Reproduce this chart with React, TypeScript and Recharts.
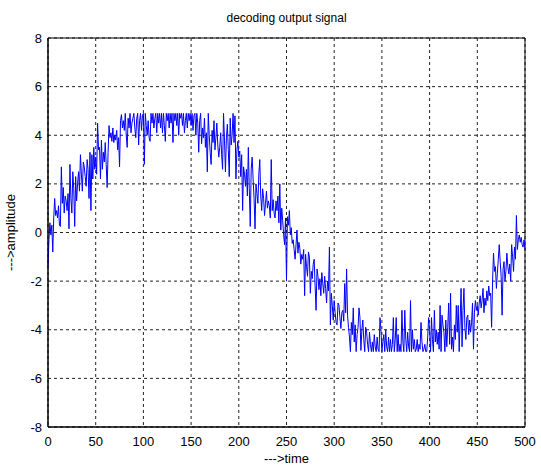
import { LineChart, Line, XAxis, YAxis, CartesianGrid, ReferenceArea } from 'recharts';

// decoded samples, one per time step (t = 0..500)
const amplitude: number[] = [
  -1.4, -0.3, 0.4, -0.1, 0.3, -0.8, 0.6, 1.4, 0.7, 0.9,
  0.6, 1.1, 0.3, 0.25, 2.7, 1.2, 1.85, 0.8, 1.5, 1.3,
  0.9, 1.6, 0.15, 2.8, 1.4, 0.8, 2.5, 1.8, 0.25, 2.3,
  1.3, 2.0, 2.5, 1.7, 3.2, 2.4, 1.7, 2.9, 2.7, 2.3,
  1.9, 3.0, 2.6, 1.4, 3.3, 0.9, 3.2, 2.2, 3.5, 2.6,
  3.1, 2.4, 4.5, 3.4, 3.5, 2.2, 3.8, 2.6, 3.3, 2.9,
  3.7, 2.8, 1.85, 3.3, 4.4, 3.9, 4.1, 3.75, 4.3, 3.7,
  4.0, 3.8, 4.2, 3.4, 3.9, 2.7, 4.6, 4.85, 4.3, 4.6,
  4.2, 4.9, 4.0, 3.5, 4.7, 4.3, 4.9, 4.1, 4.5, 4.7,
  4.9, 4.3, 3.9, 4.7, 4.9, 3.6, 4.6, 4.9, 4.2, 4.8,
  4.9, 2.8, 4.9, 4.4, 4.0, 4.6, 3.9, 3.75, 4.9, 4.5,
  4.9, 4.3, 4.7, 4.9, 4.1, 4.9, 4.5, 4.9, 4.3, 4.9,
  4.1, 4.9, 4.4, 3.75, 4.9, 4.6, 4.9, 4.3, 4.9, 4.5,
  4.9, 3.7, 4.9, 4.6, 4.9, 4.4, 4.9, 4.0, 4.9, 4.7,
  4.9, 4.4, 4.9, 4.1, 4.6, 4.9, 4.3, 4.9, 4.6, 4.9,
  4.4, 4.9, 4.2, 4.8, 4.9, 4.0, 4.9, 4.5, 3.3, 4.6,
  4.9, 3.65, 4.3, 3.9, 4.7, 3.5, 4.1, 2.5, 4.9, 4.0,
  3.3, 2.8, 4.2, 3.7, 4.6, 3.4, 3.9, 4.5, 3.6, 3.1,
  3.5, 4.1, 3.2, 2.6, 4.9, 3.8, 2.5, 3.9, 4.45, 3.4,
  2.3, 4.7, 3.6, 4.0, 4.9, 3.7, 4.8, 2.2, 3.4, 3.75,
  3.1, 3.35, 2.3, 3.2, 0.9, 2.7, 2.4, 1.9, 2.6, 1.5,
  3.5, 1.8, 0.25, 2.6, 3.1, 2.2, 1.4, 0.15, 2.0, 1.6,
  1.2, 2.4, 3.0, 1.5, 0.9, 1.8, 1.4, 0.7, 1.2, 1.7,
  1.0, 1.3, 1.1, 0.6, 3.0, 0.9, 1.35, 0.8, 0.6, 1.3,
  0.9, 1.5, 0.4, 2.0, 0.1, 1.0, 0.5, -0.1, -0.5, 0.6,
  -2.0, 0.65, 0.3, 0.9, -0.1, 0.2, -0.45, -0.3, -0.7, -1.1,
  -0.5, 0.1, -0.85, -0.4, -0.65, -1.3, -0.9, -1.1, -0.7, -2.6,
  -0.9, -1.4, -1.8, -0.8, -1.0, -2.5, -1.6, -1.9, -1.3, -1.1,
  -2.2, -3.2, -1.5, -1.8, -2.35, -1.9, -2.6, -1.65, -2.1, -2.5,
  -1.8, -2.3, -2.9, -2.0, -2.4, -0.6, -3.8, -2.5, -3.0, -3.6,
  -2.8, -3.3, -3.7, -3.8, -2.9, -3.0, -3.5, -3.95, -3.3, -3.2,
  -3.65, -2.1, -3.3, -1.5, -3.4, -3.9, -4.3, -4.9, -3.7, -4.2,
  -3.1, -4.5, -3.8, -4.9, -4.2, -3.9, -3.1, -3.5, -4.85, -4.0,
  -3.6, -4.4, -4.9, -3.9, -4.1, -4.6, -4.9, -4.1, -4.6, -4.9,
  -4.5, -4.9, -4.2, -4.7, -4.9, -4.3, -4.8, -4.9, -3.5, -4.0,
  -4.9, -4.5, -4.2, -4.9, -4.0, -4.7, -4.9, -4.3, -4.9, -4.4,
  -4.9, -4.6, -3.5, -4.9, -4.4, -3.5, -4.9, -4.2, -4.9, -4.6,
  -4.9, -3.2, -4.5, -4.9, -3.2, -4.4, -4.9, -4.1, -4.7, -4.9,
  -2.8, -4.9, -4.0, -4.8, -4.4, -4.9, -4.8, -4.4, -4.9, -4.6,
  -4.8, -3.7, -4.5, -4.9, -4.8, -4.6, -4.9, -4.9, -4.3, -3.5,
  -4.0, -4.9, -3.5, -4.4, -4.9, -3.2, -4.5, -4.0, -4.6, -4.1,
  -4.8, -3.0, -4.9, -3.4, -3.8, -4.1, -4.9, -3.6, -4.7, -3.9,
  -2.9, -4.6, -2.5, -4.8, -4.3, -4.9, -3.8, -4.4, -3.0, -4.1,
  -3.0, -4.9, -3.6, -2.3, -4.7, -3.2, -2.3, -3.9, -4.4, -3.5,
  -3.4, -4.2, -3.6, -4.1, -3.7, -2.9, -4.8, -3.3, -2.8, -3.2,
  -3.0, -3.4, -2.9, -2.6, -3.1, -2.8, -2.3, -3.3, -2.7, -3.0,
  -2.4, -2.8, -2.2, -2.6, -2.5, -3.9, -2.0, -0.85, -1.6, -1.4,
  -2.3, -1.7, -1.1, -0.5, -1.2, -1.8, -3.4, -1.5, -1.2, -2.0,
  -1.6, -0.85, -1.4, -1.7, -1.3, -2.0, -0.5, -1.0, -1.6, -0.6,
  -1.1, 0.7, -0.7, -0.3, -0.1, -0.4, -0.2, -0.5, -0.6, -0.3,
  -0.7,
];

const timeTicks = [0, 50, 100, 150, 200, 250, 300, 350, 400, 450, 500];
const ampTicks = [-8, -6, -4, -2, 0, 2, 4, 6, 8];

const data = amplitude.map((v, t) => ({ t, v }));

const font = "'Liberation Sans', Arial, Helvetica, sans-serif";

export default function App() {
  return (
    <div style={{ position: 'absolute', left: 0, top: 0, width: 541, height: 467, background: '#fff', fontFamily: font }}>
      <div style={{ position: 'absolute', left: 48, width: 477, top: 11, textAlign: 'center', fontSize: 12, color: '#000' }}>
        decoding output signal
      </div>
      <LineChart width={541} height={467} data={data} margin={{ top: 38, right: 16, bottom: 0, left: 0 }}>
        <CartesianGrid stroke="#222" strokeDasharray="3 3" strokeWidth={1} />
        <XAxis
          dataKey="t"
          type="number"
          domain={[0, 500]}
          ticks={timeTicks}
          interval={0}
          height={40}
          tickLine={false}
          tickSize={0}
          tickMargin={10}
          axisLine={{ stroke: '#000' }}
          tick={{ fill: '#000', fontSize: 13, fontFamily: font }}
          label={{ value: '--->time', position: 'insideBottom', offset: 4, fill: '#000', fontSize: 13, fontFamily: font }}
        />
        <YAxis
          type="number"
          domain={[-8, 8]}
          ticks={ampTicks}
          interval={0}
          width={48}
          tickLine={false}
          tickSize={0}
          tickMargin={6}
          axisLine={{ stroke: '#000' }}
          tick={{ fill: '#000', fontSize: 13, fontFamily: font }}
          label={{ value: '--->amplitude', angle: -90, position: 'insideLeft', offset: 10, style: { textAnchor: 'middle' }, fill: '#000', fontSize: 13, fontFamily: font }}
        />
        <ReferenceArea x1={0} x2={500} y1={-8} y2={8} fill="none" stroke="#000" strokeWidth={1} ifOverflow="visible" />
        <Line
          type="linear"
          dataKey="v"
          stroke="#0000ff"
          strokeWidth={1}
          dot={false}
          isAnimationActive={false}
        />
      </LineChart>
    </div>
  );
}
